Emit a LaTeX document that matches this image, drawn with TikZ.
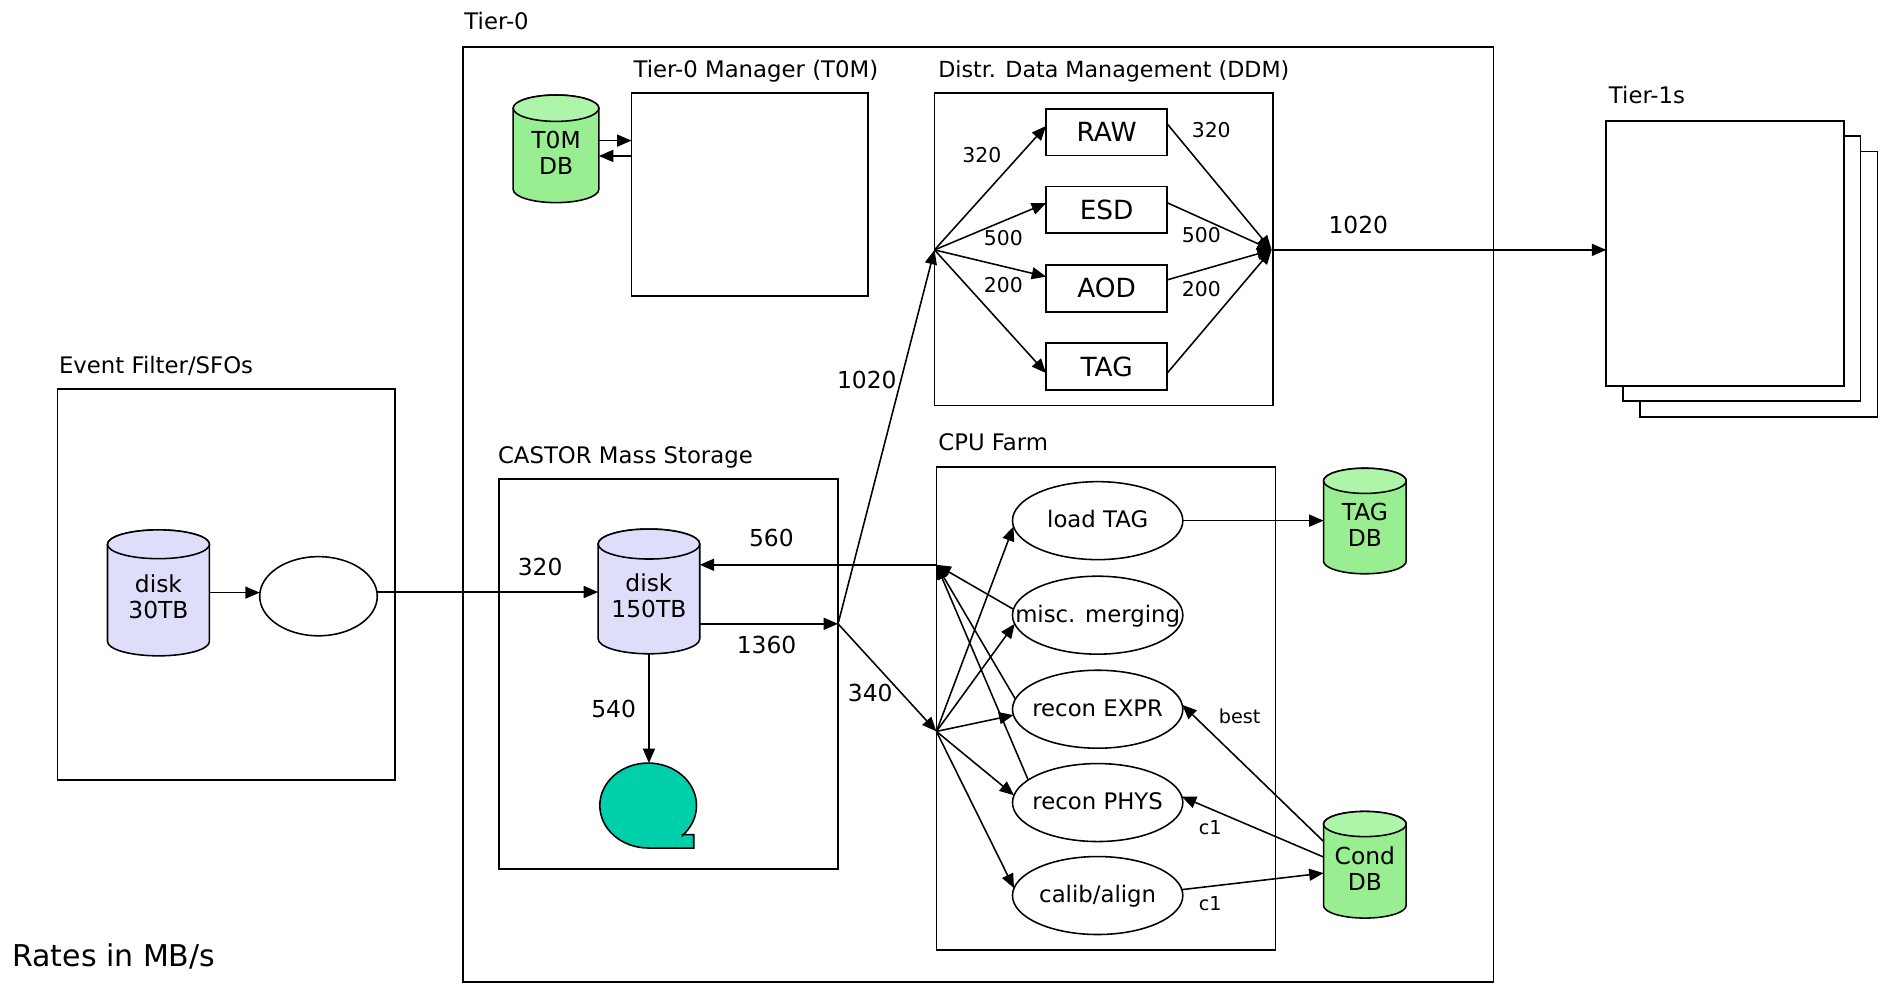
\documentclass[tikz,border=0pt]{standalone}
\usepackage{fontspec}
\setmainfont{DejaVu Sans}
\usetikzlibrary{arrows.meta,shapes.geometric}

\definecolor{dbgreen}{HTML}{98EE90}
\definecolor{dbgreentop}{HTML}{ADF5A8}
\definecolor{disklav}{HTML}{DEDEFA}
\definecolor{tapeteal}{HTML}{00D0AA}

\newcommand{\cyltext}{\fontsize{19.5}{21.8}\selectfont}
% #1 name, #2 left, #3 top, #4 right, #5 bottom, #6 cap radius, #7 body fill, #8 cap fill, #9 text
\newcommand{\mycyl}[9]{%
  \pgfmathsetmacro{\cylrx}{(#4-#2)/2}%
  \pgfmathsetmacro{\cylcx}{(#4+#2)/2}%
  \pgfmathsetmacro{\cylmid}{(#3+#5)/2+3.5}%
  \pgfmathsetmacro{\cylh}{#5-#3-7}%
  \path[draw=black,line width=1.3pt,fill=#7] (#2,{#3+#6}) -- (#2,{#5-#6})
     arc[start angle=180,end angle=360,x radius=\cylrx pt,y radius=#6pt]
     -- (#4,{#3+#6})
     arc[start angle=0,end angle=180,x radius=\cylrx pt,y radius=#6pt] -- cycle;
  \path[draw=black,line width=1.3pt,fill=#8] (\cylcx,{#3+#6}) ellipse[x radius=\cylrx pt,y radius=#6pt];
  \node[inner sep=0pt,outer sep=0pt,minimum width={(#4-#2)*1pt},minimum height=\cylh pt,align=center,font=\cyltext] (#1) at (\cylcx,\cylmid) {#9};
}

\tikzset{
  box/.style={draw,line width=1.4pt,rectangle,inner sep=0pt,outer sep=0pt,anchor=north west},
  lbl/.style={anchor=base west,inner sep=0pt,font=\fontsize{19}{22}\selectfont},
  num/.style={inner sep=0pt,font=\fontsize{19.5}{22}\selectfont},
  snum/.style={inner sep=0pt,font=\fontsize{17}{20}\selectfont},
  tnum/.style={inner sep=0pt,font=\fontsize{16}{19}\selectfont},
  arr/.style={line width=1.3pt,-{Triangle[length=12pt,width=10pt]}},
  proc/.style={draw,ellipse,line width=1.3pt,minimum width=142pt,minimum height=65pt,inner ysep=0pt,inner xsep=-35pt,outer sep=0pt,text height=16pt,text depth=4pt,font=\fontsize{19}{22}\selectfont},
  dbox/.style={draw,rectangle,line width=1.4pt,minimum width=101pt,minimum height=39pt,inner sep=0pt,outer sep=0pt,font=\fontsize{22}{26}\selectfont},
}

\begin{document}
\begin{tikzpicture}[x=1pt,y=-1pt]
\useasboundingbox (0,0) rectangle (1568,820);

% containers
\node[box,minimum width=859pt,minimum height=779.6pt] (tier0) at (386,39) {};
\node[box,minimum width=197pt,minimum height=169pt] (t0m) at (526.4,77.8) {};
\node[box,minimum width=282pt,minimum height=260.2pt] (ddm) at (779,77.8) {};
\node[box,minimum width=281.6pt,minimum height=325.8pt] (ef) at (47.8,324.5) {};
\node[box,minimum width=282.6pt,minimum height=325.2pt] (castor) at (416,399.4) {};
\node[box,minimum width=282.7pt,minimum height=402.3pt] (cpu) at (780.6,389.4) {};
\node[box,fill=white,minimum width=198pt,minimum height=221pt] (t1c) at (1367,126.4) {};
\node[box,fill=white,minimum width=198pt,minimum height=221pt] (t1b) at (1353,113.5) {};
\node[box,fill=white,minimum width=198pt,minimum height=221pt] (t1a) at (1339,100.6) {};

% titles
\node[lbl] (ltier0) at (387,25) {Tier-0};
\node[lbl] (lt0m) at (528,64.4) {Tier-0 Manager (T0M)};
\node[lbl,font=\fontsize{18.5}{22}\selectfont] (lddm) at (782,64.4) {Distr. Data Management (DDM)};
\node[lbl] (ltier1) at (1341,86) {Tier-1s};
\node[lbl] (lef) at (49,311) {Event Filter/SFOs};
\node[lbl] (lcastor) at (415,386) {CASTOR Mass Storage};
\node[lbl] (lcpu) at (782,375.5) {CPU Farm};
\node[lbl,font=\fontsize{25}{28}\selectfont] (lrates) at (10,806) {Rates in MB/s};

% cylinders
\mycyl{t0mdb}{427.8}{79.2}{499.2}{168.9}{11}{dbgreen}{dbgreentop}{T0M\\DB}
\mycyl{tagdb}{1103.3}{390.3}{1172.2}{478.3}{10.5}{dbgreen}{dbgreentop}{TAG\\DB}
\mycyl{conddb}{1103.3}{676.4}{1172.2}{765.3}{10.5}{dbgreen}{dbgreentop}{Cond\\DB}
\mycyl{disk30}{89.6}{441.7}{174.6}{546.7}{12}{disklav}{disklav}{disk\\30TB}
\mycyl{disk150}{498.6}{441}{583.3}{545}{12.5}{disklav}{disklav}{disk\\150TB}

% tape
\path[draw=black,line width=1.3pt,fill=tapeteal] (540.3,707) -- (578.3,707) -- (578.3,695.8) -- (568.8,695.8) -- (568.8,696.5)
  arc[start angle=-45,end angle=270,x radius=40.3pt,y radius=35.4pt] -- cycle;
\coordinate (tape) at (540.3,636.1);

% SFO ellipse
\node[draw,ellipse,line width=1.3pt,minimum width=98pt,minimum height=66pt,inner sep=0pt,outer sep=0pt] (sfo) at (265.5,497) {};

% DDM boxes
\node[dbox] (raw) at (922.5,110.2) {RAW};
\node[dbox] (esd) at (922.5,175) {ESD};
\node[dbox] (aod) at (922.5,240.3) {AOD};
\node[dbox] (tag) at (922.5,305.5) {TAG};

% CPU farm processes
\node[proc] (lt) at (915,434) {load TAG};
\node[proc] (mm) at (915,512.8) {misc. merging};
\node[proc] (re) at (915,591.2) {recon EXPR};
\node[proc] (rp) at (915,669) {recon PHYS};
\node[proc] (ca) at (915,746.5) {calib/align};

% junction points
\coordinate (fanD) at (779,208.3);
\coordinate (mergeD) at (1060,208.3);
\coordinate (split) at (698.6,520);
\coordinate (A) at (780.6,470.8);
\coordinate (B) at (780.6,609.7);

% T0M DB <-> T0M
\draw[arr] (t0mdb.east |- 0,117.2) -- (t0m.west |- 0,117.2);
\draw[arr] (t0m.west |- 0,130) -- (t0mdb.east |- 0,130);

% DDM fan out
\draw[arr] (fanD) -- (raw.west |- 0,105);
\draw[arr] (fanD) -- (esd.west |- 0,169.4);
\draw[arr] (fanD) -- (aod.west |- 0,230.6);
\draw[arr] (fanD) -- (tag.west |- 0,311);
\draw[arr] (raw.east |- 0,103.3) -- (mergeD);
\draw[arr] (esd.east |- 0,169) -- (mergeD);
\draw[arr] (aod.east |- 0,233.3) -- (mergeD);
\draw[arr] (tag.east |- 0,311) -- (mergeD);
\draw[arr] (mergeD) -- (t1a.west |- mergeD);

\node[snum] (n320a) at (818.5,129) {320};
\node[snum] (n500a) at (836.4,198.6) {500};
\node[snum] (n200a) at (836.4,237.5) {200};
\node[snum] (n320b) at (1009.7,108.3) {320};
\node[snum] (n500b) at (1001.4,195.8) {500};
\node[snum] (n200b) at (1001.4,241) {200};
\node[num] (n1020b) at (1132.3,187.5) {1020};

% Event filter flow
\draw[arr] (disk30.east |- 0,494) -- (sfo.west |- 0,494);
\draw[arr] (sfo.east |- 0,493.5) -- (disk150.west |- 0,493.5);
\node[num] (n320c) at (450.3,472.3) {320};

% CASTOR flows
\draw[arr] (disk150.south) -- (disk150.south |- tape);
\node[num] (n540) at (511.5,591) {540};
\draw[arr] (disk150.east |- split) -- (split);
\node[num] (n1360) at (639,537.5) {1360};
\draw[arr] (A) -- (disk150.east |- A);
\node[num] (n560) at (643,448.6) {560};
\draw[arr] (split) -- (fanD);
\node[num] (n1020a) at (722.6,316.7) {1020};
\draw[arr] (split) -- (B);
\node[num] (n340) at (725.4,578) {340};

% CPU farm fan out
\draw[arr] (B) -- (lt.184);
\draw[arr] (B) -- (mm.186);
\draw[arr] (B) -- (re.184);
\draw[arr] (B) -- (rp.175);
\draw[arr] (B) -- (ca.175);
\draw[arr] (mm.176) -- (A);
\draw[arr] (re.173) -- (A);
\draw[arr] (rp.162) -- (A);

% databases
\draw[arr] (lt.east) -- (tagdb.west |- lt.east);
\draw[arr] (conddb.west |- 0,701.4) -- (re.3);
\draw[arr] (conddb.west |- 0,714.4) -- (rp.4);
\draw[arr] (ca.4) -- (conddb.west |- 0,727.8);
\node[tnum] (nbest) at (1033.3,597.2) {best};
\node[tnum] (nc1a) at (1008.9,690.3) {c1};
\node[tnum] (nc1b) at (1008.9,753.3) {c1};
\end{tikzpicture}
\end{document}
